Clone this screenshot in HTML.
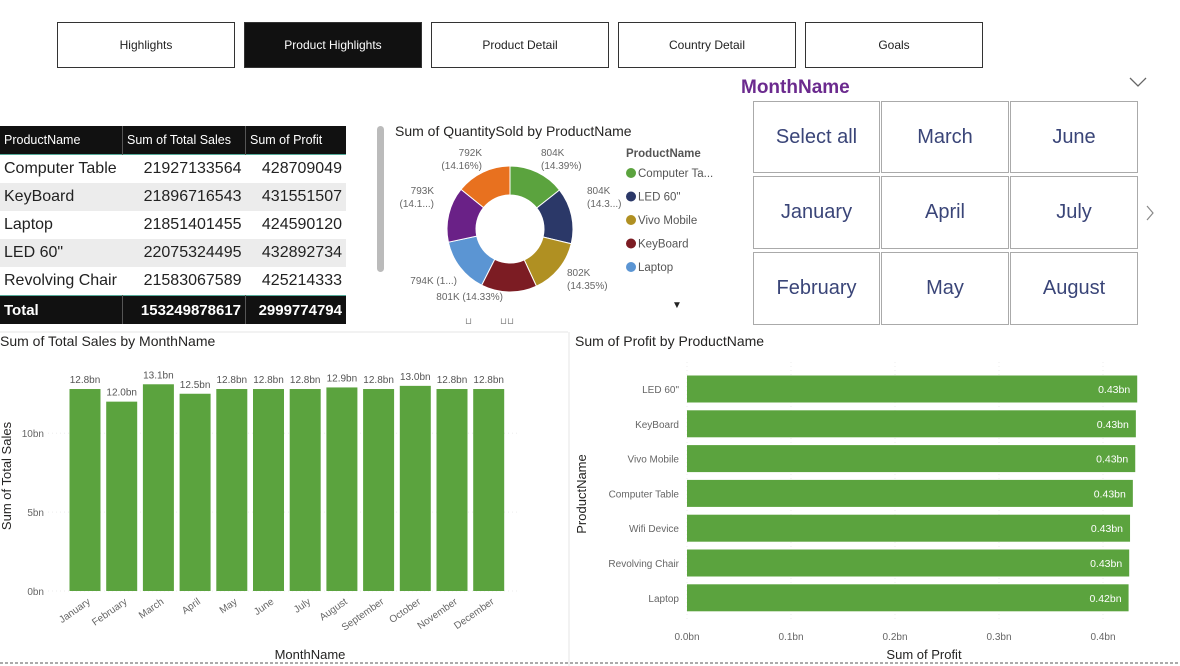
<!DOCTYPE html>
<html><head><meta charset="utf-8"><style>
body{margin:0;width:1180px;height:666px;background:#fff;font-family:"Liberation Sans",sans-serif;position:relative;overflow:hidden}
.abs{position:absolute}
.nav{position:absolute;top:22px;height:44px;width:176px;border:1px solid #333;display:flex;align-items:center;justify-content:center;font-size:12px;color:#222;background:#fff}
.tile{position:absolute;border:1.5px solid #aaa;box-sizing:border-box;display:flex;align-items:center;justify-content:center;font-size:20px;color:#3a4578}
table{border-collapse:collapse}
td{font-size:16px;color:#222;height:28px;padding:0 4px}
</style></head><body>
<div class="nav" style="left:57px">Highlights</div>
<div class="nav" style="left:244px;background:#111;color:#fff">Product Highlights</div>
<div class="nav" style="left:431px">Product Detail</div>
<div class="nav" style="left:618px">Country Detail</div>
<div class="nav" style="left:805px">Goals</div>

<div class="abs" style="left:0;top:126px;width:346px">
<table style="width:346px">
<tr style="background:#111;color:#fff;height:27px;border-bottom:1px solid #5a9;"><td style="color:#fff;font-size:12.5px;width:114px;border-right:1px solid #555">ProductName</td><td style="color:#fff;font-size:12.5px;width:114px;border-right:1px solid #555">Sum of Total Sales</td><td style="color:#fff;font-size:12.5px">Sum of Profit</td></tr>
<tr><td>Computer Table</td><td style="text-align:right">21927133564</td><td style="text-align:right">428709049</td></tr>
<tr style="background:#ececec"><td>KeyBoard</td><td style="text-align:right">21896716543</td><td style="text-align:right">431551507</td></tr>
<tr><td>Laptop</td><td style="text-align:right">21851401455</td><td style="text-align:right">424590120</td></tr>
<tr style="background:#ececec"><td>LED 60"</td><td style="text-align:right">22075324495</td><td style="text-align:right">432892734</td></tr>
<tr><td>Revolving Chair</td><td style="text-align:right">21583067589</td><td style="text-align:right">425214333</td></tr>
<tr style="background:#111;height:27px;border-top:1px solid #5a9"><td style="color:#fff;font-weight:bold;font-size:15px">Total</td><td style="color:#fff;font-weight:bold;font-size:15px;text-align:right;border-left:1px solid #555">153249878617</td><td style="color:#fff;font-weight:bold;font-size:15px;text-align:right;border-left:1px solid #555">2999774794</td></tr>
</table></div>

<div class="abs" style="left:377px;top:126px;width:7px;height:146px;background:#bbb;border-radius:4px"></div>

<svg class="abs" style="left:0;top:0" width="1180" height="666" id="svg">
<text x="395" y="136" font-size="14" fill="#252423">Sum of QuantitySold by ProductName</text>
<text x="626" y="157" font-size="11.5" font-weight="bold" fill="#555">ProductName</text>
<g id="donut"></g><g id="legend"></g>
<text x="672" y="308" font-size="10" fill="#222">▼</text>
<text x="465" y="324" font-size="9" fill="#888">⊔</text><text x="500" y="324" font-size="9" fill="#888">⊔⊔</text>
<text x="741" y="93" font-size="19" font-weight="bold" fill="#6b2a8e">MonthName</text>
<polyline points="1130,78 1138,86 1146,78" fill="none" stroke="#666" stroke-width="1.3"/>
<polyline points="1147,206 1153,213 1147,220" fill="none" stroke="#888" stroke-width="1.2"/>
<line x1="0" y1="332" x2="568" y2="332" stroke="#e6e6e6"/>
<line x1="569" y1="332" x2="569" y2="666" stroke="#e6e6e6"/>
<line x1="0" y1="663" x2="1180" y2="663" stroke="#555" stroke-dasharray="3,2"/>
<text x="0" y="346" font-size="14" fill="#252423">Sum of Total Sales by MonthName</text>
<text x="575" y="346" font-size="14" fill="#252423">Sum of Profit by ProductName</text>
<g id="sales"></g><g id="profit"></g>
<text x="310" y="659" font-size="13" fill="#252423" text-anchor="middle">MonthName</text>
<text transform="translate(11,476) rotate(-90)" font-size="13" fill="#252423" text-anchor="middle">Sum of Total Sales</text>
<text x="924" y="659" font-size="13" fill="#252423" text-anchor="middle">Sum of Profit</text>
<text transform="translate(586,494) rotate(-90)" font-size="13" fill="#252423" text-anchor="middle">ProductName</text>
</svg>

<div class="tile" style="left:753px;top:101px;width:127px;height:72px">Select all</div>
<div class="tile" style="left:881px;top:101px;width:128px;height:72px">March</div>
<div class="tile" style="left:1010px;top:101px;width:128px;height:72px">June</div>
<div class="tile" style="left:753px;top:176px;width:127px;height:73px">January</div>
<div class="tile" style="left:881px;top:176px;width:128px;height:73px">April</div>
<div class="tile" style="left:1010px;top:176px;width:128px;height:73px">July</div>
<div class="tile" style="left:753px;top:252px;width:127px;height:73px">February</div>
<div class="tile" style="left:881px;top:252px;width:128px;height:73px">May</div>
<div class="tile" style="left:1010px;top:252px;width:128px;height:73px">August</div>

<script>
const months=["January","February","March","April","May","June","July","August","September","October","November","December"];
const salesBn=[12.8,12.0,13.1,12.5,12.8,12.8,12.8,12.9,12.8,13.0,12.8,12.8];
const salesTicks=[0,5,10];
const products=["LED 60\"","KeyBoard","Vivo Mobile","Computer Table","Wifi Device","Revolving Chair","Laptop"];
const profitBn=[0.4329,0.4316,0.4310,0.4287,0.4260,0.4252,0.4246];
const profitTicks=[0,0.1,0.2,0.3,0.4];
const donutNames=["Computer Ta...","LED 60\"","Vivo Mobile","KeyBoard","Laptop","Wifi Device","Revolving Chair"];
const donutQty=[804,804,802,801,794,793,792];
const donutLabels=["804K\n(14.39%)","804K\n(14.3...)","802K\n(14.35%)","801K (14.33%)","794K (1...)","793K\n(14.1...)","792K\n(14.16%)"];
const donutColors=["#5ba33e","#2b3868","#b09022","#7c1c23","#5b95d3","#6a2187","#e8711f"];
const NS="http://www.w3.org/2000/svg";
function mk(p,t,a){const e=document.createElementNS(NS,t);for(const k in a)e.setAttribute(k,a[k]);p.appendChild(e);return e;}
// sales
const sg=document.getElementById('sales');
const y0=591,ppb=15.78,x0=85,step=36.7,bw=31;
const sy=v=>y0-v*ppb, sx=i=>x0+i*step;
salesTicks.forEach(t=>{const tx=mk(sg,'text',{x:44,y:sy(t)+4,'font-size':10,fill:'#666','text-anchor':'end'});tx.textContent=t+'bn';
mk(sg,'line',{x1:48,x2:520,y1:sy(t),y2:sy(t),stroke:'#eee','stroke-dasharray':'1,3'});});
salesBn.forEach((v,i)=>{const r=mk(sg,'rect',{x:sx(i)-bw/2,y:sy(v),width:bw,height:v*ppb,fill:'#5ba33e'});


const l=mk(sg,'text',{x:sx(i),y:sy(v)-6,'font-size':10,fill:'#555','text-anchor':'middle'});l.textContent=v.toFixed(1)+'bn';
const m=mk(sg,'text',{transform:`translate(${sx(i)+6},${y0+12}) rotate(-35)`,'font-size':10,fill:'#666','text-anchor':'end'});m.textContent=months[i];});
// profit
const pg=document.getElementById('profit');
const px0=687,ppx=1040;const px=v=>px0+v*ppx;const py=i=>389+i*34.8;
profitTicks.forEach(t=>{const tx=mk(pg,'text',{x:px(t),y:640,'font-size':10,fill:'#666','text-anchor':'middle'});tx.textContent=t.toFixed(1)+'bn';
mk(pg,'line',{x1:px(t),x2:px(t),y1:362,y2:622,stroke:'#eee','stroke-dasharray':'1,3'});});
profitBn.forEach((v,i)=>{const r=mk(pg,'rect',{x:px0,y:py(i)-13.5,width:v*ppx,height:27,fill:'#5ba33e'});


const l=mk(pg,'text',{x:px(v)-7,y:py(i)+4,'font-size':10.5,fill:'#fff','text-anchor':'end'});l.textContent=v.toFixed(2)+'bn';
const c=mk(pg,'text',{x:679,y:py(i)+4,'font-size':10,fill:'#666','text-anchor':'end'});c.textContent=products[i];});
// donut
const dg=document.getElementById('donut');const cx=510,cy=229,R=63,r0=34;
const tot=donutQty.reduce((a,b)=>a+b,0);let a=-Math.PI/2;
const lpos=[[541,156,'start'],[587,194,'start'],[567,276,'start'],[503,300,'end'],[457,284,'end'],[434,194,'end'],[482,156,'end']];
donutQty.forEach((q,i)=>{const da=q/tot*2*Math.PI,a2=a+da;
const p=(ang,r)=>[cx+r*Math.cos(ang),cy+r*Math.sin(ang)];
const [x1,y1]=p(a,R),[x2,y2]=p(a2,R),[x3,y3]=p(a2,r0),[x4,y4]=p(a,r0);
const s=mk(dg,'path',{d:`M${x1},${y1}A${R},${R} 0 0 1 ${x2},${y2}L${x3},${y3}A${r0},${r0} 0 0 0 ${x4},${y4}Z`,fill:donutColors[i],stroke:'#fff','stroke-width':1});


const lp=lpos[i];const lines=donutLabels[i].split('\n');
lines.forEach((ln,k)=>{const t=mk(dg,'text',{x:lp[0],y:lp[1]+k*13,'font-size':10,fill:'#666','text-anchor':lp[2]});t.textContent=ln;});
a=a2;});
const lg=document.getElementById('legend');
donutNames.slice(0,5).forEach((n,i)=>{mk(lg,'circle',{cx:631,cy:173+i*23.5,r:5,fill:donutColors[i]});
const t=mk(lg,'text',{x:638,y:177+i*23.5,'font-size':11.5,fill:'#555'});t.textContent=n;

});
</script>
</body></html>
